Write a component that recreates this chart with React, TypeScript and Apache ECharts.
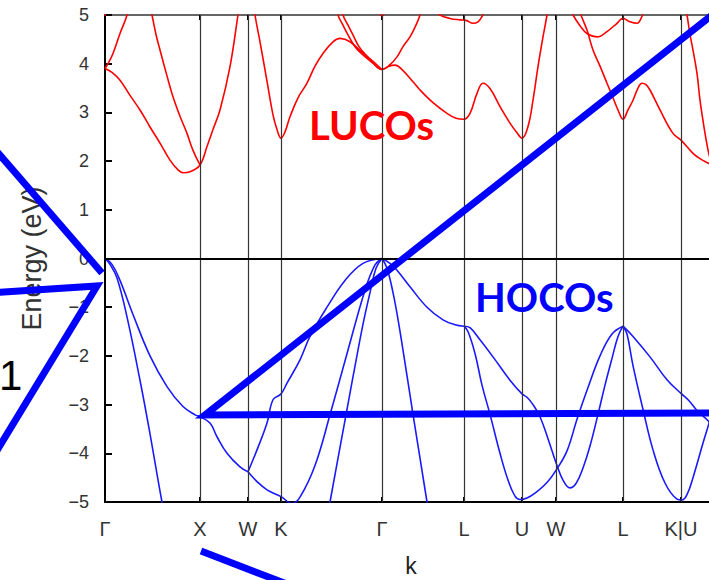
import React, { useEffect, useRef } from "react";
import * as echarts from "echarts";

// High-symmetry points along the k-path (path length, arbitrary units)
const symmetryLabels = ["Γ", "X", "W", "K", "Γ", "L", "U", "W", "L", "K|U"];
const symmetryK = [0, 0.95, 1.43, 1.76, 2.77, 3.59, 4.17, 4.51, 5.18, 5.76];
const kMax = 6.04;
const energyMin = -5;
const energyMax = 5;

// ---- Conduction bands (LUCOs), [k, E in eV] ----
const lucoTopGamma0 = [[0, 4.98], [0.05, 5.3]];
const lucoGammaX = [
  [0, 3.9], [0.07, 3.82], [0.15, 3.66], [0.25, 3.35], [0.35, 3.05], [0.45, 2.7],
  [0.55, 2.37], [0.65, 2.02], [0.73, 1.82], [0.78, 1.76], [0.85, 1.78], [0.95, 1.92],
  [1.02, 2.3], [1.08, 2.65], [1.15, 3.05], [1.25, 3.94], [1.33, 5.0], [1.36, 5.4],
];
const lucoIntoX = [
  [0.43, 5.4], [0.47, 5.0], [0.51, 4.6], [0.55, 4.28], [0.62, 3.75], [0.68, 3.32],
  [0.75, 2.92], [0.82, 2.57], [0.88, 2.22], [0.95, 1.92],
];
const lucoGamma0Up = [[0, 3.9], [0.03, 4.0], [0.08, 4.21], [0.15, 4.62], [0.22, 5.0], [0.24, 5.3]];
const lucoKLU = [
  [1.47, 5.5], [1.5, 5.0], [1.55, 4.45], [1.62, 3.64], [1.68, 2.95], [1.72, 2.65],
  [1.76, 2.47], [1.8, 2.6], [1.85, 2.91], [1.93, 3.3], [2.02, 3.6], [2.1, 3.95],
  [2.18, 4.21], [2.28, 4.45], [2.35, 4.52], [2.45, 4.45], [2.58, 4.21], [2.68, 4.01],
  [2.77, 3.88], [2.84, 3.95], [2.9, 3.97], [2.97, 3.88], [3.08, 3.63], [3.15, 3.46],
  [3.28, 3.2], [3.42, 2.98], [3.51, 2.88], [3.59, 2.86], [3.65, 2.98], [3.72, 3.39],
  [3.78, 3.6], [3.85, 3.49], [3.95, 3.12], [4.05, 2.78], [4.12, 2.58], [4.17, 2.47],
  [4.23, 2.71], [4.28, 3.25], [4.33, 3.94], [4.38, 4.55], [4.42, 5.0], [4.44, 5.3],
];
const lucoGamma1A = [
  [2.31, 5.3], [2.33, 5.0], [2.38, 4.79], [2.43, 4.59], [2.5, 4.35], [2.58, 4.18],
  [2.68, 4.01], [2.77, 3.88], [2.85, 3.98], [2.92, 4.14], [2.98, 4.35], [3.05, 4.55],
  [3.1, 4.75], [3.15, 5.0], [3.18, 5.3],
];
const lucoGamma1B = [
  [2.36, 5.3], [2.38, 5.0], [2.43, 4.79], [2.48, 4.59], [2.54, 4.35], [2.61, 4.18],
  [2.7, 4.01], [2.77, 3.88],
];
const lucoTopGamma1 = [[2.7, 5.3], [2.77, 4.98], [2.84, 5.3]];
const lucoTopL1 = [
  [3.3, 5.1], [3.35, 5.0], [3.45, 4.93], [3.55, 4.9], [3.61, 4.89], [3.68, 4.83],
  [3.73, 4.86], [3.77, 4.97], [3.79, 5.05],
];
const lucoTopL2 = [
  [4.66, 5.1], [4.68, 5.0], [4.75, 4.78], [4.82, 4.62], [4.92, 4.55], [5.02, 4.66],
  [5.12, 4.83], [5.18, 4.93], [5.25, 4.86], [5.32, 4.83], [5.37, 4.97], [5.38, 5.05],
];
const lucoL2 = [
  [4.73, 5.2], [4.76, 5.0], [4.82, 4.69], [4.88, 4.28], [4.95, 3.95], [5.02, 3.6],
  [5.08, 3.3], [5.13, 3.05], [5.18, 2.86], [5.23, 3.05], [5.28, 3.25], [5.33, 3.5],
  [5.37, 3.6], [5.41, 3.57], [5.45, 3.46], [5.55, 3.05], [5.68, 2.57], [5.76, 2.43],
  [5.88, 2.16], [5.95, 2.05], [6.04, 1.95], [6.1, 1.88],
];
const lucoRightEdge = [
  [5.8, 5.2], [5.82, 5.0], [5.85, 4.6], [5.88, 4.28], [5.92, 3.8], [5.95, 3.25],
  [5.99, 2.7], [6.03, 2.23], [6.07, 1.9],
];

// ---- Valence bands (HOCOs), [k, E in eV] ----
const hocoGammaXW = [
  [0, 0], [0.07, -0.12], [0.15, -0.45], [0.28, -1.15], [0.45, -2.0], [0.62, -2.63],
  [0.78, -3.04], [0.9, -3.21], [0.95, -3.25], [1.05, -3.38], [1.12, -3.66],
  [1.22, -4.0], [1.35, -4.28], [1.43, -4.38],
];
const hocoGamma0Steep = [
  [0, 0], [0.05, -0.12], [0.12, -0.4], [0.22, -1.2], [0.35, -2.5], [0.45, -3.6],
  [0.57, -5.0], [0.65, -5.8],
];
const hocoWKUpper = [
  [1.43, -4.38], [1.52, -3.93], [1.62, -3.38], [1.68, -2.9], [1.76, -2.78],
  [1.82, -2.56], [1.95, -2.08], [2.05, -1.6], [2.22, -1.0], [2.4, -0.45],
  [2.58, -0.1], [2.77, 0],
];
const hocoWKLower = [
  [1.43, -4.38], [1.52, -4.58], [1.62, -4.75], [1.76, -4.89], [1.87, -5.03],
  [1.95, -4.9], [2.1, -4.25], [2.25, -3.21], [2.43, -1.88], [2.6, -0.65],
  [2.7, -0.13], [2.77, 0],
];
const hocoGamma1SteepLeft = [
  [2.18, -5.8], [2.25, -5.0], [2.41, -3.21], [2.53, -1.88], [2.59, -1.25],
  [2.65, -0.7], [2.71, -0.2], [2.77, 0],
];
const hocoGamma1SteepRight = [
  [2.77, 0], [2.82, -0.2], [2.88, -0.7], [2.93, -1.25], [2.98, -1.88],
  [3.08, -3.2], [3.22, -5.0], [3.28, -5.8],
];
const hocoGammaL = [
  [2.77, 0], [2.85, -0.1], [2.92, -0.24], [3.05, -0.58], [3.22, -1.0],
  [3.38, -1.26], [3.5, -1.36], [3.59, -1.39],
];
const hocoLUpperPath = [
  [3.59, -1.39], [3.65, -1.42], [3.75, -1.67], [3.88, -2.02], [4.05, -2.5],
  [4.17, -2.78], [4.22, -2.85], [4.28, -3.0], [4.35, -3.25], [4.43, -3.7],
  [4.52, -4.25], [4.58, -4.55], [4.65, -4.71], [4.71, -4.62], [4.78, -4.3],
  [4.85, -3.85], [4.93, -3.2], [5.0, -2.6], [5.07, -2.05], [5.13, -1.6], [5.18, -1.39],
];
const hocoLLowerPath = [
  [3.59, -1.39], [3.63, -1.5], [3.7, -1.95], [3.77, -2.6], [3.85, -3.2], [3.95, -4.0],
  [4.03, -4.55], [4.1, -4.88], [4.15, -4.95], [4.22, -4.92], [4.3, -4.82],
  [4.42, -4.6], [4.51, -4.35], [4.62, -3.95], [4.72, -3.3], [4.83, -2.65],
  [4.95, -2.0], [5.07, -1.55], [5.18, -1.39],
];
const hocoL2Wide = [
  [5.18, -1.39], [5.28, -1.6], [5.45, -2.02], [5.62, -2.49], [5.76, -2.77],
  [5.84, -2.92], [5.92, -3.12], [6.04, -3.35], [6.1, -3.5],
];
const hocoL2Steep = [
  [5.18, -1.39], [5.22, -1.55], [5.28, -2.2], [5.38, -3.1], [5.48, -3.93],
  [5.6, -4.61], [5.72, -4.94], [5.77, -4.96], [5.82, -4.85], [5.88, -4.5],
  [5.98, -3.79], [6.04, -3.38], [6.1, -2.9],
];

const lucoBands = [
  lucoTopGamma0, lucoGammaX, lucoIntoX, lucoGamma0Up, lucoKLU, lucoGamma1A,
  lucoGamma1B, lucoTopGamma1, lucoTopL1, lucoTopL2, lucoL2, lucoRightEdge,
];
const hocoBands = [
  hocoGammaXW, hocoGamma0Steep, hocoWKUpper, hocoWKLower, hocoGamma1SteepLeft,
  hocoGamma1SteepRight, hocoGammaL, hocoLUpperPath, hocoLLowerPath, hocoL2Wide, hocoL2Steep,
];

const RED = "#ff0000";
const BLUE = "#1a1aff";
const THICK = "#0000ff";

function band(data: number[][], color: string) {
  return {
    type: "line",
    data,
    symbol: "none",
    showSymbol: false,
    smooth: 0.4,
    silent: true,
    clip: true,
    z: 3,
    lineStyle: { color, width: 1.6 },
    itemStyle: { color },
  };
}

function labelFor(v: number) {
  const i = symmetryK.findIndex((s) => Math.abs(s - v) < 1e-6);
  return i >= 0 ? symmetryLabels[i] : "";
}

export default function App() {
  const ref = useRef<HTMLDivElement>(null);

  useEffect(() => {
    document.body.style.margin = "0";
    if (!ref.current) return;
    const chart = echarts.init(ref.current, undefined, { renderer: "svg" });
    const font = "Liberation Sans";

    const option: any = {
      animation: false,
      backgroundColor: "#ffffff",
      grid: {
        left: 105,
        right: 0,
        top: 15,
        bottom: 78,
        show: false,
        containLabel: false,
        outerBoundsMode: "none",
      },
      xAxis: [
        {
          type: "value",
          position: "bottom",
          min: 0,
          max: kMax,
          name: "k",
          nameLocation: "middle",
          nameGap: 52,
          nameTextStyle: { fontFamily: font, fontSize: 23, color: "#222", padding: [0, 0, 0, 8] },
          axisLine: { onZero: false, lineStyle: { color: "#000", width: 2 } },
          axisTick: { show: true, inside: true, length: 5, customValues: symmetryK, lineStyle: { color: "#000", width: 2 } },
          axisLabel: {
            customValues: symmetryK,
            formatter: (v: number) => labelFor(v),
            margin: 17,
            fontFamily: font,
            fontSize: 20,
            color: "#333",
          },
          splitLine: { show: false },
        },
        {
          type: "value",
          position: "top",
          min: 0,
          max: kMax,
          axisLine: { onZero: false, lineStyle: { color: "#666", width: 2 } },
          axisTick: { show: true, inside: true, length: 5, customValues: symmetryK, lineStyle: { color: "#000", width: 2 } },
          axisLabel: { show: false },
          splitLine: { show: false },
        },
      ],
      yAxis: {
        type: "value",
        min: energyMin,
        max: energyMax,
        interval: 1,
        name: "Energy (eV)",
        nameLocation: "middle",
        nameRotate: 90,
        nameGap: 60,
        nameTextStyle: { fontFamily: font, fontSize: 27, color: "#333" },
        axisLine: { onZero: false, lineStyle: { color: "#000", width: 2 } },
        axisTick: { inside: true, length: 7, lineStyle: { color: "#000", width: 2 } },
        axisLabel: {
          margin: 16,
          fontFamily: font,
          fontSize: 18,
          color: "#333",
          formatter: (v: number) => String(v).replace("-", "\u2212"),
        },
        splitLine: { show: false },
      },
      series: [
        {
          type: "line",
          data: [],
          silent: true,
          z: 1,
          markLine: {
            silent: true,
            symbol: ["none", "none"],
            label: { show: false },
            animation: false,
            lineStyle: { color: "#333", width: 1.2, type: "solid" },
            data: [
              ...symmetryK.slice(1).map((k) => ({ xAxis: k })),
              { yAxis: 0, lineStyle: { color: "#000", width: 1.8, type: "solid" } },
            ],
          },
        },
        ...lucoBands.map((b) => band(b, RED)),
        ...hocoBands.map((b) => band(b, BLUE)),
      ],
      graphic: [
        {
          type: "text",
          x: 309,
          y: 125,
          z: 50,
          style: { text: "LUCOs", font: "bold 40px Lato", fill: RED, verticalAlign: "middle", align: "left" },
        },
        {
          type: "text",
          x: 475,
          y: 297,
          z: 50,
          style: { text: "HOCOs", font: "bold 40px Lato", fill: THICK, verticalAlign: "middle", align: "left" },
        },
        {
          type: "text",
          x: -1,
          y: 375,
          z: 50,
          style: { text: "1", font: "42px 'Liberation Sans'", fill: "#000", verticalAlign: "middle", align: "left" },
        },
        {
          type: "line",
          z: 100,
          shape: { x1: -20, y1: 132, x2: 102, y2: 273 },
          style: { stroke: THICK, lineWidth: 7, lineCap: "butt" },
        },
        {
          type: "polyline",
          z: 100,
          shape: { points: [[-10, 293], [97, 286], [-10, 462]] },
          style: { stroke: THICK, lineWidth: 7, lineJoin: "miter", miterLimit: 10, fill: "none" },
        },
        {
          type: "polyline",
          z: 100,
          shape: { points: [[716, 12], [205, 415], [716, 413]] },
          style: { stroke: THICK, lineWidth: 7, lineJoin: "miter", miterLimit: 10, fill: "none" },
        },
        {
          type: "line",
          z: 100,
          shape: { x1: 201, y1: 551, x2: 305, y2: 591 },
          style: { stroke: THICK, lineWidth: 7, lineCap: "butt" },
        },
      ],
    };

    chart.setOption(option);
    return () => chart.dispose();
  }, []);

  return <div ref={ref} style={{ width: 709, height: 580 }} />;
}
